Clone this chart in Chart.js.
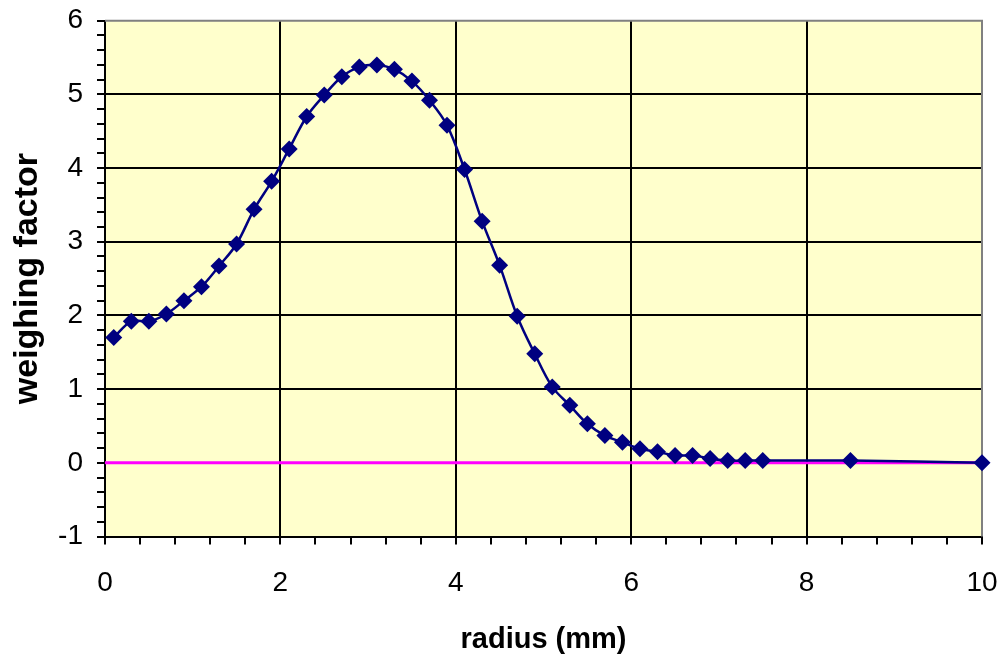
<!DOCTYPE html>
<html>
<head>
<meta charset="utf-8">
<script src="https://cdn.jsdelivr.net/npm/chart.js@4/dist/chart.umd.min.js"></script>
<style>
  html, body { margin: 0; padding: 0; background: #ffffff; }
  #wrap { width: 1000px; height: 659px; position: relative; }
</style>
</head>
<body>
<div id="wrap"><canvas id="c" width="1000" height="659"></canvas></div>
<script>
// radius (mm)
const radius = [0.1, 0.3, 0.5, 0.7, 0.9, 1.1, 1.3, 1.5, 1.7, 1.9, 2.1, 2.3, 2.5, 2.7, 2.9, 3.1, 3.3, 3.5, 3.7, 3.9,
                4.1, 4.3, 4.5, 4.7, 4.9, 5.1, 5.3, 5.5, 5.7, 5.9, 6.1, 6.3, 6.5, 6.7, 6.9, 7.1, 7.3, 7.5, 8.5, 10];
// weighing factor
const weight = [1.70, 1.92, 1.92, 2.02, 2.20, 2.39, 2.67, 2.97, 3.44, 3.82, 4.26, 4.70, 4.99, 5.24, 5.37, 5.40, 5.34, 5.18, 4.92, 4.58,
                3.98, 3.28, 2.68, 1.99, 1.48, 1.03, 0.78, 0.53, 0.37, 0.28, 0.19, 0.15, 0.10, 0.10, 0.06, 0.03, 0.03, 0.03, 0.03, 0.00];
// zero reference line
const zeroX = [0, 10];
const zeroY = [0, 0];
// axis settings
const xMin = 0, xMax = 10, xMinorStep = 0.4, xMajorStep = 2;
const yMin = -1, yMax = 6, yMinorStep = 0.2, yMajorStep = 1;
const xTitle = 'radius (mm)';
const yTitle = 'weighing factor';

const isMult = (v, m) => Math.abs(v / m - Math.round(v / m)) < 1e-6;

const bgPlugin = {
  id: 'bg',
  beforeDraw(chart) {
    const {ctx, chartArea: a} = chart;
    ctx.save();
    ctx.fillStyle = '#FFFFCC';
    ctx.fillRect(a.left, a.top, a.right - a.left, a.bottom - a.top);
    ctx.restore();
  },
  beforeDatasetsDraw(chart) {
    const {ctx, chartArea: a} = chart;
    ctx.save();
    ctx.strokeStyle = '#808080';
    ctx.lineWidth = 2;
    ctx.beginPath();
    ctx.moveTo(a.left, a.top);
    ctx.lineTo(a.right, a.top);
    ctx.lineTo(a.right, a.bottom);
    ctx.stroke();
    ctx.restore();
  }
};

new Chart(document.getElementById('c'), {
  type: 'line',
  data: {
    datasets: [
      {
        data: radius.map((r, i) => ({x: r, y: weight[i]})),
        borderColor: '#000080',
        backgroundColor: '#000080',
        borderWidth: 2.5,
        pointStyle: 'rectRot',
        pointRadius: 8.5,
        pointHoverRadius: 8.5,
        pointBorderWidth: 0,
        tension: 0.35,
        clip: false,
        fill: false
      },
      {
        data: zeroX.map((x, i) => ({x: x, y: zeroY[i]})),
        borderColor: '#FF00FF',
        borderWidth: 3,
        pointRadius: 0,
        tension: 0,
        fill: false
      }
    ]
  },
  options: {
    responsive: false,
    animation: false,
    events: [],
    layout: { padding: { top: 20.7, right: 18, left: 0, bottom: 0 } },
    plugins: { legend: { display: false }, tooltip: { enabled: false } },
    scales: {
      x: {
        type: 'linear',
        min: xMin, max: xMax,
        afterFit(s) { s.height = 122.5; s.paddingLeft = 0; s.paddingRight = 0; },
        border: { color: '#000000', width: 2 },
        grid: {
          color: c => (isMult(c.tick.value, xMajorStep) && c.tick.value > xMin && c.tick.value < xMax) ? '#000000' : 'rgba(0,0,0,0)',
          lineWidth: 2,
          tickColor: '#000000',
          tickWidth: 2,
          tickLength: 8
        },
        ticks: {
          stepSize: xMinorStep,
          autoSkip: false,
          maxRotation: 0,
          padding: 22,
          color: '#000000',
          font: { family: 'Liberation Sans, Arial, sans-serif', size: 28 },
          callback: v => isMult(v, xMajorStep) ? String(Math.round(v)) : ''
        },
        title: {
          display: true,
          text: xTitle,
          color: '#000000',
          font: { family: 'Liberation Sans, Arial, sans-serif', size: 29, weight: 'bold' },
          padding: { top: 0, bottom: 1.6 }
        }
      },
      y: {
        type: 'linear',
        min: yMin, max: yMax,
        afterFit(s) { s.width = 105; s.paddingTop = 0; s.paddingBottom = 0; },
        border: { color: '#000000', width: 2 },
        grid: {
          color: c => (isMult(c.tick.value, yMajorStep) && c.tick.value > yMin && c.tick.value < yMax) ? '#000000' : 'rgba(0,0,0,0)',
          lineWidth: 2,
          tickColor: '#000000',
          tickWidth: 2,
          tickLength: 8
        },
        ticks: {
          stepSize: yMinorStep,
          autoSkip: false,
          padding: 14,
          color: '#000000',
          font: { family: 'Liberation Sans, Arial, sans-serif', size: 28 },
          callback: v => isMult(v, yMajorStep) ? String(Math.round(v)) : ''
        },
        title: {
          display: true,
          text: yTitle,
          color: '#000000',
          font: { family: 'Liberation Sans, Arial, sans-serif', size: 34, weight: 'bold' },
          padding: { top: 7, bottom: 0 }
        }
      }
    }
  },
  plugins: [bgPlugin]
});
</script>
</body>
</html>
